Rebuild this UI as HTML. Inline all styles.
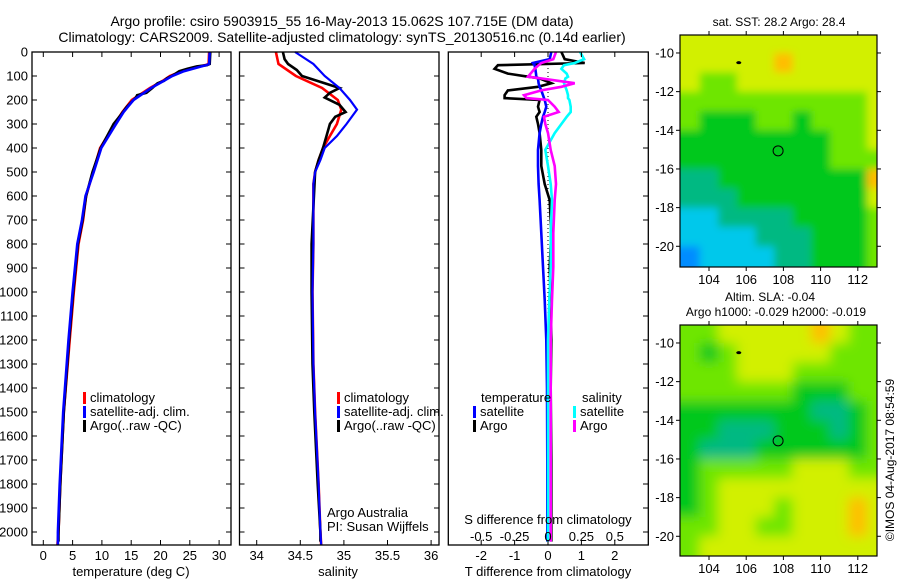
<!DOCTYPE html>
<html><head><meta charset="utf-8">
<style>
html,body{margin:0;padding:0;background:#fff;}
svg{display:block;font-family:"Liberation Sans",sans-serif;}
text{font-size:13px;fill:#000;}
</style></head>
<body>
<svg id="fig" width="900" height="580" viewBox="0 0 900 580" xmlns="http://www.w3.org/2000/svg">
<defs>
<filter id="blur1" x="0" y="0" width="100%" height="100%"><feGaussianBlur stdDeviation="4"/></filter>
<filter id="blur2" x="0" y="0" width="100%" height="100%"><feGaussianBlur stdDeviation="6"/></filter>
<clipPath id="clipM1"><rect x="680" y="35" width="197" height="232"/></clipPath>
<clipPath id="clipM2"><rect x="680" y="325" width="197" height="231"/></clipPath>
</defs>
<text x="342" y="26" text-anchor="middle" style="font-size:14px">Argo profile: csiro 5903915_55 16-May-2013 15.062S 107.715E (DM data)</text>
<text x="342" y="42" text-anchor="middle" style="font-size:14px">Climatology: CARS2009. Satellite-adjusted climatology: synTS_20130516.nc (0.14d earlier)</text>
<g id="g1"></g>
<g id="g2"></g>
<g id="g3"></g>
<g id="m1"></g>
<g id="m2"></g>
<text x="779" y="26" text-anchor="middle" style="font-size:12px">sat. SST: 28.2  Argo: 28.4</text>
<text x="770" y="301" text-anchor="middle" style="font-size:12px">Altim. SLA: -0.04</text>
<text x="776" y="316" text-anchor="middle" style="font-size:12px">Argo h1000: -0.029 h2000: -0.019</text>
<text transform="translate(894,460) rotate(-90)" text-anchor="middle" style="font-size:12px">©IMOS 04-Aug-2017 08:54:59</text>
</svg>
<script>
// ---- profile data ----
const depthT = [0,50,55,60,80,100,120,150,200,250,300,400,500,600,700,800,1000,1200,1500,1800,2000,2054];
const tempClim = [28.3,28.2,27.6,26.7,23.6,21.6,20.4,18.2,15.1,13.5,12.2,9.7,8.5,7.3,6.8,6.0,5.2,4.5,3.5,2.9,2.6,2.4];
const tempSat  = [28.4,28.3,27.8,27.0,24.0,22.0,20.6,18.4,15.4,13.7,12.4,9.9,8.6,7.2,6.6,5.8,5.0,4.3,3.4,2.8,2.5,2.5];
const depthA = [0,50,55,60,70,80,90,100,110,120,130,150,170,180,190,200,230,260,300,350,400,450,500,600,700,800,1000,1200,1500,1800,2000,2040];
const tempArgo = [28.5,28.4,27.9,26.2,24.6,23.2,22.6,21.9,21.1,20.6,19.5,18.6,17.6,16.0,15.8,15.4,14.2,13.3,12.0,10.9,9.8,9.1,8.4,7.3,6.7,5.9,5.1,4.4,3.5,2.9,2.6,2.6];

const depthS = [0,50,100,150,200,240,300,350,400,450,500,550,800,1000,1300,1500,1800,2000,2054];
const salClim = [34.22,34.25,34.45,34.75,34.93,34.97,34.92,34.84,34.76,34.71,34.67,34.65,34.65,34.64,34.65,34.67,34.71,34.73,34.74];
const salSat  = [34.44,34.65,34.78,34.95,35.07,35.15,35.03,34.92,34.78,34.73,34.67,34.65,34.65,34.64,34.65,34.67,34.71,34.73,34.74];
const depthSA = [0,30,50,75,100,130,150,170,190,220,250,270,300,350,400,450,500,800,1000,1300,1500,1800,2000,2040];
const salArgo = [34.30,34.32,34.36,34.46,34.52,34.78,34.95,34.84,34.78,34.95,35.02,34.90,34.84,34.80,34.76,34.71,34.67,34.63,34.63,34.64,34.66,34.70,34.73,34.73];

const depthD = [0,30,46,55,70,90,103,110,130,145,160,180,192,200,228,250,270,300,338,408,475,550,617,755,895,1033,1200,1400,1700,2040];
const dTsat  = [0.1,0.05,-0.45,-0.4,-0.38,-0.36,-0.35,-0.3,-0.28,-0.25,-0.2,-0.15,-0.12,-0.1,-0.05,-0.1,-0.15,-0.2,-0.25,-0.3,-0.3,-0.28,-0.25,-0.2,-0.15,-0.1,-0.05,-0.03,-0.02,-0.02];
const dTargo = [0.4,0.5,1.1,-1.5,-1.6,-1.2,-0.6,-0.25,0.1,-0.3,-1.2,-1.3,-1.3,-0.25,-0.3,-0.25,-0.35,-0.3,-0.25,-0.2,-0.2,-0.1,0.05,0.1,0.05,0.08,0.1,0.08,0.1,0.1];
const dSsat  = [0.24,0.27,0.2,0.12,0.1,0.14,0.15,0.13,0.12,0.13,0.14,0.15,0.15,0.16,0.17,0.17,0.14,0.1,0.05,-0.02,0.0,0.02,0.03,0.02,0.02,0.01,0.0,0.0,0.0,0.0];
const dSargo = [0.06,0.04,-0.05,-0.07,-0.1,-0.13,-0.15,-0.05,0.2,0.1,-0.05,-0.18,-0.16,0.0,0.05,0.08,-0.03,-0.02,0.0,0.02,0.05,0.06,0.05,0.04,0.04,0.03,0.02,0.02,0.02,0.02];

const depthTicks = [0,100,200,300,400,500,600,700,800,900,1000,1100,1200,1300,1400,1500,1600,1700,1800,1900,2000];
const tTicks = [0,5,10,15,20,25,30];
const sTicks = [34,34.5,35,35.5,36];
const dtTicks = [-2,-1,0,1,2];
const dsTicks = [-0.5,-0.25,0,0.25,0.5];
const dsTickLabels = ["-0.5","-0.25","0","0.25","0.5"];

// ---- map data (rows lat -9..-21 per 1 deg, cols lon 102.5..113.5 per 1 deg, value 0..10) ----
const sstGrid = [
[7,7,7,7,7,7,7,7,7,7,7],
[7,7,7,7,7,8,7,7,7,7,7],
[7,6,6,7,7,7,7,7,7,7,7],
[6,6,6,6,6,6,6,6,6,6,7],
[6,5,5,5,6,6,5,6,6,6,7],
[5,5,5,5,5,5,5,5,6,6,7],
[5,5,5,5,5,5,5,5,6,6,6],
[4,4,5,5,5,5,5,5,5,5,8],
[4,4,4,5,5,5,5,5,5,5,7],
[3,3,4,4,4,4,5,5,5,5,6],
[3,3,3,3,4,4,4,5,5,5,6],
[2,3,3,3,3,4,4,5,5,5,6]];
const slaGrid = [
[6,6,7,7,7,7,7,8,7,6,6],
[6,5,6,7,7,7,7,7,6,6,6],
[6,6,6,7,7,7,6,6,6,6,6],
[6,6,6,6,6,6,5,5,5,6,6],
[5,5,5,5,5,5,5,4,4,5,6],
[5,5,4,4,4,5,5,5,4,5,6],
[5,4,4,4,5,5,5,5,5,5,6],
[5,6,6,6,6,6,7,7,7,6,6],
[5,6,7,7,7,7,7,7,7,7,7],
[5,6,7,7,7,6,7,7,7,8,7],
[6,6,7,7,6,6,7,7,7,8,7],
[6,7,7,7,7,7,7,7,7,7,7]];
const lonTicks = [104,106,108,110,112];
const latTicks = [-10,-12,-14,-16,-18,-20];
const argoLon = 107.715, argoLat = -15.062;

const NS = "http://www.w3.org/2000/svg";
function mk(parent, tag, attrs){const e=document.createElementNS(NS,tag);for(const k in attrs)e.setAttribute(k,attrs[k]);parent.appendChild(e);return e;}
const yD = d => 52 + d*0.24;
const PT = 52, PB = 545;

function frame(g, x0, x1){
  const r = mk(g,'rect',{x:x0,y:PT,width:x1-x0,height:PB-PT,fill:'none',stroke:'#000','stroke-width':1.3});
  
  
}
function yTicks(g, x0, x1, labels){
  depthTicks.forEach(d=>{
    const y=yD(d);
    mk(g,'line',{x1:x0,y1:y,x2:x0+5,y2:y,stroke:'#000'});
    mk(g,'line',{x1:x1,y1:y,x2:x1-5,y2:y,stroke:'#000'});
    if(labels){const t=mk(g,'text',{x:28,y:y+4.5,'text-anchor':'end'});t.textContent=d;
      
      }
  });
}
function xTicks(g, vals, fx, labels, ly, top){
  vals.forEach((v,i)=>{
    const x=fx(v);
    mk(g,'line',{x1:x,y1:PB,x2:x,y2:PB-5,stroke:'#000'});
    if(top) mk(g,'line',{x1:x,y1:PT,x2:x,y2:PT+5,stroke:'#000'});
    const t=mk(g,'text',{x:x,y:ly,'text-anchor':'middle'});t.textContent=labels?labels[i]:v;
    
    
  });
}
function line(g, depths, vals, fx, color, name, w){
  const pts = depths.map((d,i)=>fx(vals[i]).toFixed(1)+','+yD(d).toFixed(1)).join(' ');
  const p = mk(g,'polyline',{points:pts,fill:'none',stroke:color,'stroke-width':w||2.6,'stroke-linejoin':'miter'});
  
  
}
function legend(g, x, y, color, label, name){
  mk(g,'rect',{x:x,y:y-10,width:3,height:12,fill:color});
  const t=mk(g,'text',{x:x+7,y:y});t.textContent=label;
  
  
}
function txt(g,x,y,s,name,anchor){const t=mk(g,'text',{x:x,y:y,'text-anchor':anchor||'start'});t.textContent=s;
  
  return t;}

// Panel 1: temperature
const g1=document.getElementById('g1');
const fT = v => 43.3 + v*5.86;
line(g1, depthT, tempClim, fT, '#ff0000','temperature-climatology-line');
line(g1, depthA, tempArgo, fT, '#000000','temperature-argo-line');
line(g1, depthT, tempSat, fT, '#0000ff','temperature-satellite-line');
frame(g1,32,231); yTicks(g1,32,231,true); xTicks(g1,tTicks,fT,null,560,true);
txt(g1,131,576,'temperature (deg C)','temperature-axis-title','middle');
legend(g1,83,402,'#ff0000','climatology','legend-climatology');
legend(g1,83,416,'#0000ff','satellite-adj. clim.','legend-satellite-adj');
legend(g1,83,430,'#000000','Argo(..raw -QC)','legend-argo');

// Panel 2: salinity
const g2=document.getElementById('g2');
const fS = v => 256.7 + (v-34)*87.2;
line(g2, depthS, salClim, fS, '#ff0000','salinity-climatology-line');
line(g2, depthSA, salArgo, fS, '#000000','salinity-argo-line');
line(g2, depthS, salSat, fS, '#0000ff','salinity-satellite-line',2.2);
frame(g2,239.5,439); yTicks(g2,239.5,439,false); xTicks(g2,sTicks,fS,null,560,false);
txt(g2,338,576,'salinity','salinity-axis-title','middle');
legend(g2,337,402,'#ff0000','climatology','legend-climatology');
legend(g2,337,416,'#0000ff','satellite-adj. clim.','legend-satellite-adj');
legend(g2,337,430,'#000000','Argo(..raw -QC)','legend-argo');
txt(g2,327,517,'Argo Australia','argo-australia-label');
txt(g2,327,531,'PI: Susan Wijffels','pi-label');

// Panel 3: differences
const g3=document.getElementById('g3');
const fDT = v => 548 + v*33.4;
const fDS = v => 548 + v*133.6;
mk(g3,'line',{x1:548,y1:PT,x2:548,y2:PB,stroke:'#000','stroke-dasharray':'1,3'});
line(g3, depthD, dTargo, fDT, '#000000','t-diff-argo-line');
line(g3, depthD, dTsat, fDT, '#0000ff','t-diff-satellite-line');
line(g3, depthD, dSsat, fDS, '#00ffff','s-diff-satellite-line');
line(g3, depthD, dSargo, fDS, '#ff00ff','s-diff-argo-line');
frame(g3,448.3,648.3);
depthTicks.forEach(d=>{const y=yD(d);mk(g3,'line',{x1:648.3,y1:y,x2:643,y2:y,stroke:'#000'});});
xTicks(g3,dtTicks,fDT,null,560,true);
dsTicks.forEach((v,i)=>{txt(g3,fDS(v),541,dsTickLabels[i],'s-diff-tick-label','middle');});
txt(g3,548,524,'S difference from climatology','s-diff-axis-title','middle');
txt(g3,548,576,'T difference from climatology','t-diff-axis-title','middle');
txt(g3,481,402,'temperature','legend-temperature-heading');
txt(g3,582,402,'salinity','legend-salinity-heading');
legend(g3,473,416,'#0000ff','satellite','legend-t-satellite');
legend(g3,473,430,'#000000','Argo','legend-t-argo');
legend(g3,573,416,'#00ffff','satellite','legend-s-satellite');
legend(g3,573,430,'#ff00ff','Argo','legend-s-argo');

// Maps
const stops=[[0,[0,0,140]],[2,[0,140,255]],[3,[0,200,235]],[4,[0,185,130]],[5,[0,200,30]],[6,[110,230,0]],[7,[210,240,0]],[8,[255,190,0]],[10,[255,60,0]]];
function col(v){for(let i=1;i<stops.length;i++){if(v<=stops[i][0]){const a=stops[i-1],b=stops[i];const t=(v-a[0])/(b[0]-a[0]);
  const c=a[1].map((x,k)=>Math.round(x+(b[1][k]-x)*t));return 'rgb('+c.join(',')+')';}}return 'rgb(255,60,0)';}
function map(id, grid, top, bottom, clip, blur){
  const g=document.getElementById(id);
  const L=680,R=877;
  const fx = lon => 709 + (lon-104)*18.6;
  const y10 = top + 0.93*19.33; // y of lat -10
  const fy = lat => y10 + (-10-lat)*19.33;
  const cg=mk(g,'g',{'clip-path':'url(#'+clip+')'});
  mk(cg,'rect',{x:L,y:top,width:R-L,height:bottom-top,fill:col(grid[grid.length-1][5])});
  const hg=mk(cg,'g',{filter:'url(#'+blur+')'});
  grid.forEach((row,r)=>row.forEach((v,c)=>{
    const lonL=102.5+c, latT=-9-r;
    const cell=mk(hg,'rect',{x:fx(lonL)-(c===0?20:0),y:fy(latT)-(r===0?20:0),width:18.6+1+(c===0||c===row.length-1?20:0),height:19.33+1+(r===0||r===grid.length-1?20:0),fill:col(v)});
    
    
  }));
  const ci=mk(g,'circle',{cx:fx(argoLon),cy:fy(argoLat),r:5,fill:'none',stroke:'#000','stroke-width':1});
  
  
  const bl=mk(g,'ellipse',{cx:fx(105.6),cy:fy(-10.5),rx:2.5,ry:1.5,fill:'#000'});
  
  
  const fr=mk(g,'rect',{x:L,y:top,width:R-L,height:bottom-top,fill:'none',stroke:'#000','stroke-width':1.2});
  
  
  lonTicks.forEach(lon=>{const x=fx(lon);mk(g,'line',{x1:x,y1:top,x2:x,y2:top-4,stroke:'#000'});
    mk(g,'line',{x1:x,y1:bottom,x2:x,y2:bottom+4,stroke:'#000'});
    txt(g,x,bottom+17,String(lon),'lon-tick-label','middle');});
  latTicks.forEach(lat=>{const y=fy(lat);mk(g,'line',{x1:L,y1:y,x2:L-4,y2:y,stroke:'#000'});
    mk(g,'line',{x1:R,y1:y,x2:R+4,y2:y,stroke:'#000'});
    txt(g,674,y+4.5,String(lat),'lat-tick-label','end');});
}
map('m1', sstGrid, 35, 267, 'clipM1','blur1');
map('m2', slaGrid, 325, 556, 'clipM2','blur2');
</script>
</body></html>
